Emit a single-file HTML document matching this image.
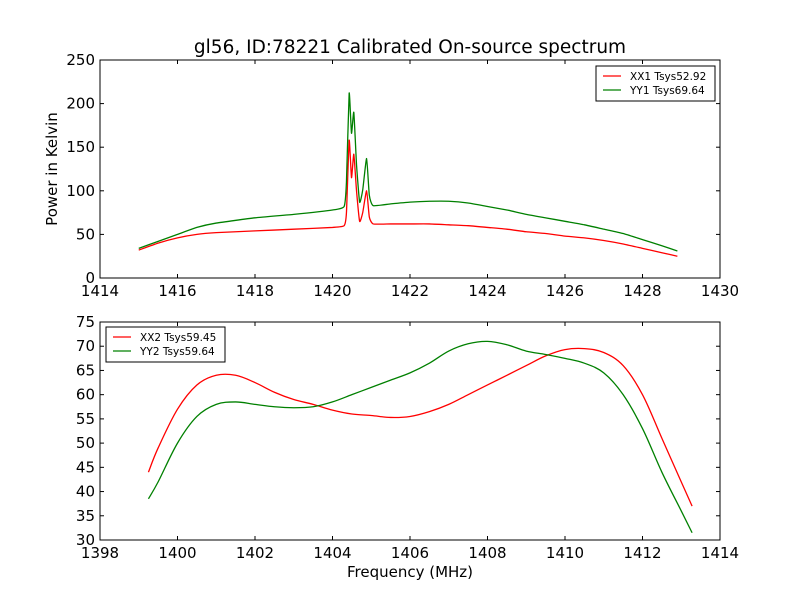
<!DOCTYPE html>
<html><head><meta charset="utf-8"><style>
body{margin:0;background:#fff;}
svg text{font-family:"DejaVu Sans","Liberation Sans",sans-serif;}
</style></head><body>
<svg id="c" width="800" height="600" xmlns="http://www.w3.org/2000/svg">
<rect width="800" height="600" fill="#fff"/>
<text x="410" y="53" font-size="18.5" text-anchor="middle">gl56, ID:78221 Calibrated On-source spectrum</text>
<g id="top"></g><g id="bot"></g>
<text x="57" y="169" font-size="15" text-anchor="middle" transform="rotate(-90 57 169)">Power in Kelvin</text>
<text x="410" y="577" font-size="15" text-anchor="middle">Frequency (MHz)</text>
</svg>
<script>
const topX=[1415,1415.5,1416,1416.5,1417,1418,1419,1420,1420.3,1420.36,1420.43,1420.49,1420.55,1420.62,1420.7,1420.78,1420.88,1420.95,1421.05,1421.5,1422,1422.5,1423,1423.5,1424,1424.5,1425,1425.5,1426,1426.5,1427,1427.5,1428,1428.5,1428.9];
const topXX1=[32,40,46,50,52,54,56,58,60,75,158,115,142,100,65,75,100,70,62,62,62,62,61,60,58,56,53,51,48,46,43,39,34,29,25];
const topYY1=[34,42,50,58,63,69,73,78,82,110,212,166,190,130,87,101,137,95,83,85,87,88,88,86,82,78,73,69,65,61,56,51,44,37,31];
const botX=[1399.25,1399.5,1400,1400.5,1401,1401.5,1402,1402.5,1403,1403.5,1404,1404.5,1405,1405.5,1406,1406.5,1407,1407.5,1408,1408.5,1409,1409.5,1410,1410.5,1411,1411.5,1412,1412.5,1413,1413.28];
const botXX2=[44,49,57,62,64,64,62.5,60.5,59,58,56.8,56,55.7,55.3,55.5,56.5,58,60,62,64,66,68,69.3,69.5,68.7,66,60,51,42,37];
const botYY2=[38.5,42,50,55.5,58,58.5,58,57.5,57.3,57.5,58.5,60,61.5,63,64.5,66.5,69,70.5,71,70.3,69,68.3,67.5,66.5,64.5,60,53,44,36,31.5];
const NS="http://www.w3.org/2000/svg";
function mk(p,t,a){const e=document.createElementNS(NS,t);for(const k in a)e.setAttribute(k,a[k]);p.appendChild(e);return e;}
function smooth(pts,tens){
  let d='M'+pts[0][0].toFixed(2)+','+pts[0][1].toFixed(2);
  for(let i=0;i<pts.length-1;i++){
    const p0=pts[Math.max(0,i-1)],p1=pts[i],p2=pts[i+1],p3=pts[Math.min(pts.length-1,i+2)];
    const c1=[p1[0]+(p2[0]-p0[0])*tens,p1[1]+(p2[1]-p0[1])*tens];
    const c2=[p2[0]-(p3[0]-p1[0])*tens,p2[1]-(p3[1]-p1[1])*tens];
    d+='C'+c1.map(v=>v.toFixed(2)).join(',')+' '+c2.map(v=>v.toFixed(2)).join(',')+' '+p2[0].toFixed(2)+','+p2[1].toFixed(2);
  }
  return d;
}
function panel(g,y0,x0v,x1v,y0v,y1v,xt,yt,series,leg,tens){
  const L=100,R=720,T=y0,B=y0+218;
  const sx=v=>L+(v-x0v)/(x1v-x0v)*(R-L), sy=v=>B-(v-y0v)/(y1v-y0v)*(B-T);
  series.forEach(s=>{
    const pts=s.y.map((v,i)=>[sx(s.x[i]),sy(v)]);
    const p=mk(g,'path',{d:smooth(pts,tens),fill:'none',stroke:s.c,'stroke-width':1.3});
    
    
  });
  const fr=mk(g,'rect',{x:L,y:T,width:R-L,height:B-T,fill:'none',stroke:'#000'});
  
  
  xt.forEach(v=>{const x=sx(v);
    mk(g,'line',{x1:x,x2:x,y1:B,y2:B-4,stroke:'#000'});mk(g,'line',{x1:x,x2:x,y1:T,y2:T+4,stroke:'#000'});
    const t=mk(g,'text',{x:x,y:B+18,'font-size':15,'text-anchor':'middle'});t.textContent=v;
    
    });
  yt.forEach(v=>{const y=sy(v);
    mk(g,'line',{x1:L,x2:L+4,y1:y,y2:y,stroke:'#000'});mk(g,'line',{x1:R,x2:R-4,y1:y,y2:y,stroke:'#000'});
    const t=mk(g,'text',{x:L-5,y:y+5,'font-size':15,'text-anchor':'end'});t.textContent=v;
    
    });
  const lg=mk(g,'g',{});
  
  
  mk(lg,'rect',{x:leg.x,y:leg.y,width:119,height:35,fill:'#fff',stroke:'#000'});
  series.forEach((s,i)=>{const yy=leg.y+10+i*14;
    mk(lg,'line',{x1:leg.x+7,x2:leg.x+25,y1:yy,y2:yy,stroke:s.c,'stroke-width':1.3});
    const t=mk(lg,'text',{x:leg.x+34,y:yy+4,'font-size':10.5});t.textContent=s.l;
    
    });
}
panel(document.getElementById('top'),60,1414,1430,0,250,[1414,1416,1418,1420,1422,1424,1426,1428,1430],[0,50,100,150,200,250],
 [{x:topX,y:topXX1,c:'#ff0000',n:'series-xx1',l:'XX1 Tsys52.92'},{x:topX,y:topYY1,c:'#008000',n:'series-yy1',l:'YY1 Tsys69.64'}],{x:596,y:66},0.08);
panel(document.getElementById('bot'),322,1398,1414,30,75,[1398,1400,1402,1404,1406,1408,1410,1412,1414],[30,35,40,45,50,55,60,65,70,75],
 [{x:botX,y:botXX2,c:'#ff0000',n:'series-xx2',l:'XX2 Tsys59.45'},{x:botX,y:botYY2,c:'#008000',n:'series-yy2',l:'YY2 Tsys59.64'}],{x:106,y:327},0.17);
</script>
</body></html>
